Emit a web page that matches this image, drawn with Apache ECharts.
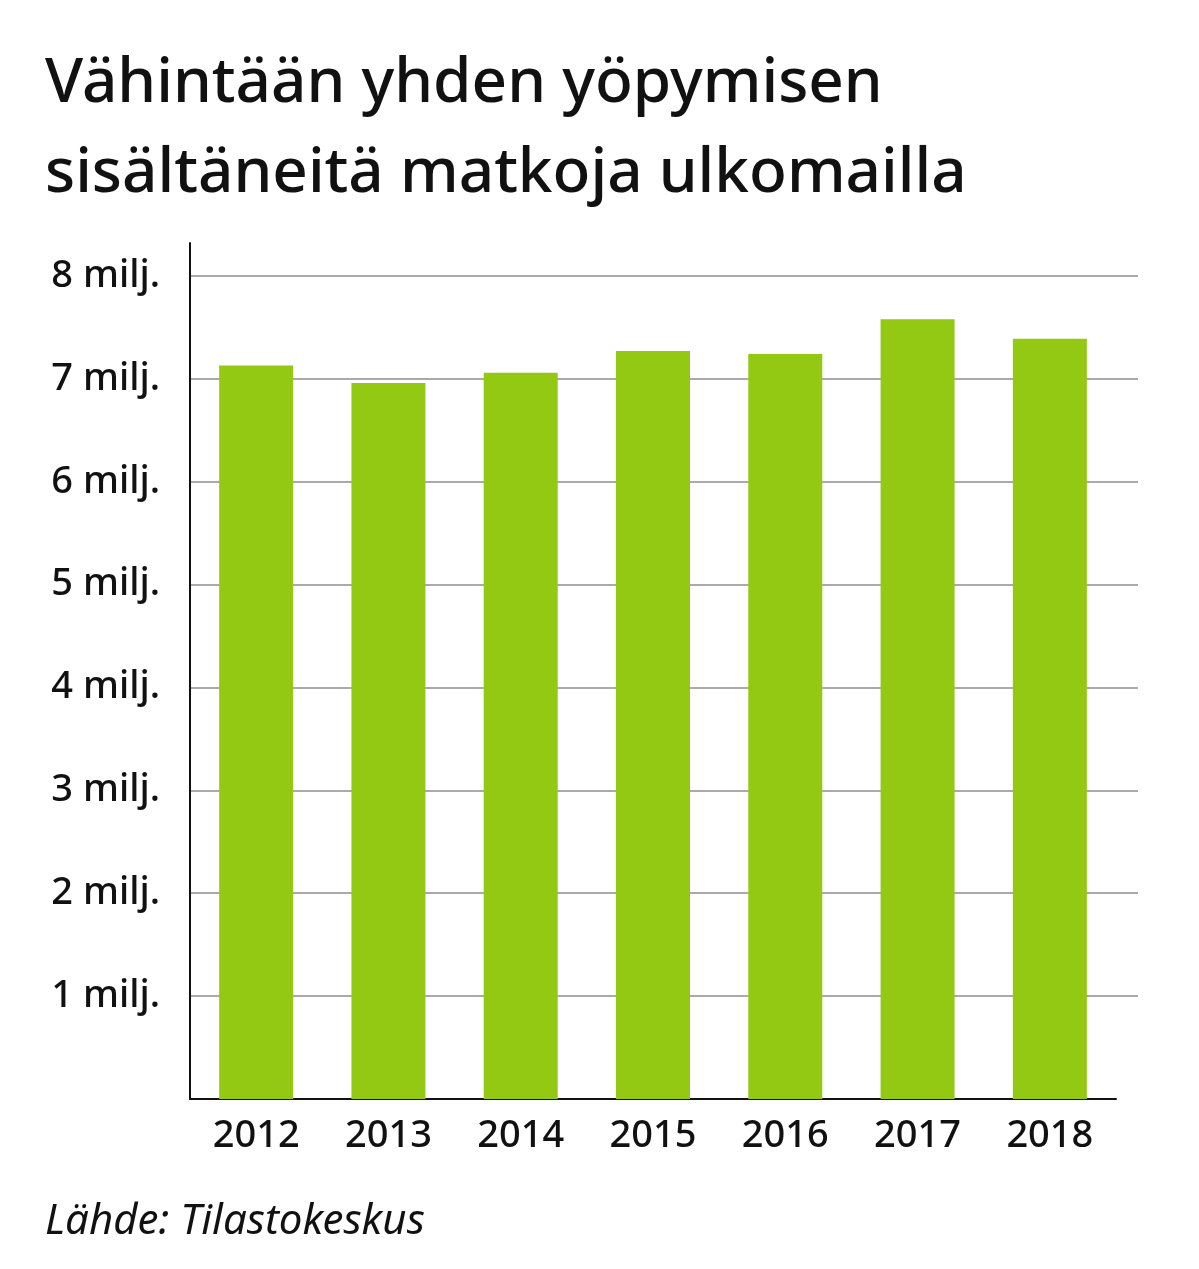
<!DOCTYPE html>
<html><head><meta charset="utf-8">
<script src="https://cdn.jsdelivr.net/npm/echarts@6/dist/echarts.min.js"></script>
<style>html,body{margin:0;padding:0;background:#fff}#c{width:1199px;height:1269px}</style>
</head><body><div id="c"></div>
<script>
const years = ['2012','2013','2014','2015','2016','2017','2018'];
const values = [7.13, 6.96, 7.06, 7.27, 7.24, 7.58, 7.39];
const titleLines = ['Vähintään yhden yöpymisen', 'sisältäneitä matkoja ulkomailla'];
const source = 'Lähde: Tilastokeskus';
const chart = echarts.init(document.getElementById('c'));
const F = 'Noto Sans';
const yBase = {type: 'value', min: 0, max: 8.32, interval: 1, axisTick: {show: false}};
chart.setOption({
  animation: false,
  title: [{text: titleLines.join('\n'), left: 40, top: 34,
    textStyle: {fontFamily: F, fontSize: 62, fontWeight: 500, color: '#111', lineHeight: 90}},
    {text: source, left: 40, top: 1196, textStyle: {fontFamily: F, fontSize: 42, fontStyle: 'italic', fontWeight: 'normal', color: '#111'}}],
  grid: [{left: 190, right: 83, top: 243, bottom: 170},
         {left: 190, right: 61, top: 243, bottom: 170}],
  xAxis: [{type: 'category', data: years, gridIndex: 0,
    axisLine: {lineStyle: {color: '#111', width: 2}}, axisTick: {show: false},
    axisLabel: {fontFamily: F, fontSize: 38, fontWeight: 500, color: '#111', margin: 18}},
    {type: 'value', gridIndex: 1, show: false, min: 0, max: 1}],
  yAxis: [Object.assign({}, yBase, {gridIndex: 0, splitLine: {show: false},
    axisLine: {show: true, lineStyle: {color: '#111', width: 2}},
    axisLabel: {fontFamily: F, fontSize: 38, fontWeight: 500, color: '#111', margin: 30, showMaxLabel: false,
      formatter: v => (v > 0 && Number.isInteger(v)) ? v + ' milj.' : ''}}),
    Object.assign({}, yBase, {gridIndex: 1, axisLine: {show: false}, axisLabel: {show: false},
      splitLine: {lineStyle: {color: '#aaa', width: 2}, showMaxLine: false, showMinLine: false}})],
  series: [{type: 'bar', data: values, barWidth: 74, xAxisIndex: 0, yAxisIndex: 0, z: 5, itemStyle: {color: '#93c913'}},
    {type: 'line', data: [], xAxisIndex: 1, yAxisIndex: 1}]
});
</script></body></html>
